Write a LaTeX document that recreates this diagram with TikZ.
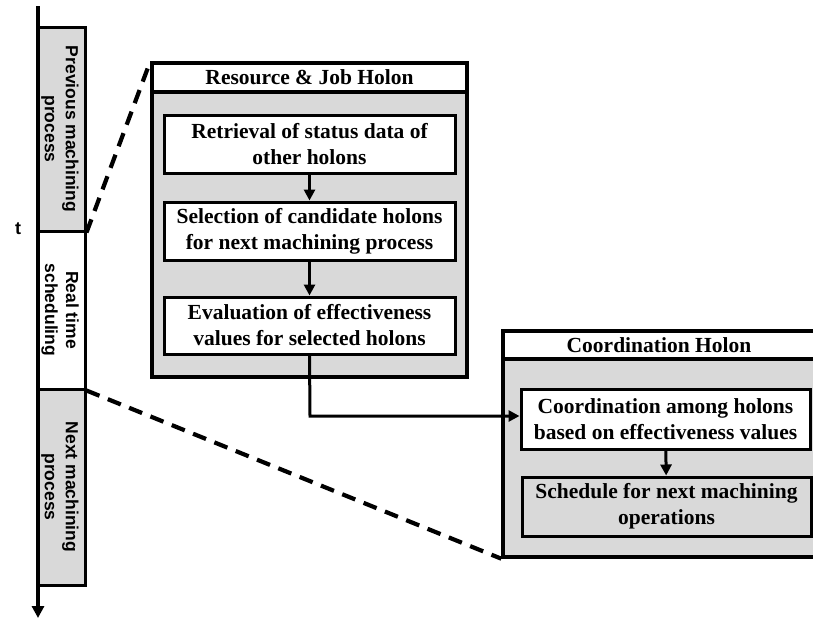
\documentclass[tikz,border=0pt]{standalone}
\usepackage{fontspec}
\setmainfont{Liberation Serif}
\setsansfont{Liberation Sans}
\usetikzlibrary{arrows.meta}
\definecolor{stip}{gray}{0.85}
\tikzset{
  outerbox/.style={draw=black, line width=3.4pt, fill=stip, inner sep=0pt},
  headbox/.style={draw=black, line width=3.2pt, fill=white, inner sep=0pt,
    font=\fontsize{21.5}{25}\selectfont\bfseries},
  stepbox/.style={draw=black, line width=3pt, fill=white, inner sep=0pt, align=center,
    font=\fontsize{21.5}{26}\selectfont\bfseries},
  barbox/.style={draw=black, line width=3pt, inner sep=0pt},
  bartext/.style={rotate=-90, align=center, inner sep=0pt,
    font=\fontsize{17.5}{21}\selectfont\sffamily\bfseries},
  flow/.style={line width=3pt, -{Triangle[length=11pt,width=11pt]}},
  zoomline/.style={line width=4.2pt, dash pattern=on 14pt off 9pt},
}
\begin{document}
\begin{tikzpicture}[x=1pt,y=-1pt]
\useasboundingbox (0,0) rectangle (813,619);
% timeline bars
\node[barbox, fill=stip, minimum width=47pt, minimum height=204pt] (prev) at (61.5,129) {};
\node[bartext] (prevt) at (60,129) {Previous machining\\process};
\node[barbox, fill=white, minimum width=47pt, minimum height=158pt] (real) at (61.5,310) {};
\node[bartext] (realt) at (60,310) {Real time\\scheduling};
\node[barbox, fill=stip, minimum width=47pt, minimum height=196pt] (next) at (61.5,487) {};
\node[bartext] (nextt) at (60,487) {Next machining\\process};
\coordinate (axtop) at (38,6);
\coordinate (axbot) at (38,618);
\draw[line width=3.2pt, -{Triangle[length=12pt,width=12pt]}] (axtop) -- (axbot);
\node[font=\fontsize{18}{20}\selectfont\sffamily\bfseries] (tlab) at (18,229) {t};
% Resource & Job Holon
\node[outerbox, minimum width=315pt, minimum height=314pt] (res) at (309.5,220) {};
\node[headbox, minimum width=315pt, minimum height=29pt] (reshead) at (309.5,77.5) {Resource \& Job Holon};
\node[stepbox, minimum width=291pt, minimum height=58pt] (r1) at (309.5,144) {Retrieval of status data of\\other holons};
\node[stepbox, minimum width=291pt, minimum height=58pt] (r2) at (309.5,231) {Selection of candidate holons\\for next machining process};
\node[stepbox, minimum width=291pt, minimum height=57pt] (r3) at (309.5,325.5) {Evaluation of effectiveness\\values for selected holons};
\draw[flow] (r1) -- (r2);
\draw[flow] (r2) -- (r3);
% Coordination Holon
\node[outerbox, minimum width=312pt, minimum height=226pt] (co) at (659,444) {};
\node[headbox, minimum width=312pt, minimum height=28pt] (cohead) at (659,345) {Coordination Holon};
\node[stepbox, minimum width=289pt, minimum height=60pt] (c1) at (665.5,419) {Coordination among holons\\based on effectiveness values};
\node[stepbox, fill=stip, minimum width=289pt, minimum height=59pt] (c2) at (666.5,506.5) {Schedule for next machining\\operations};
\draw[flow] (c1) -- (c2);
% link between holons
\coordinate (bend) at (310,416);
\draw[flow] (r3.south) -- (bend) -- (bend -| c1.west);
% zoom lines
\draw[zoomline] (prev.south east) -- (res.north west);
\draw[zoomline] (real.south east) -- (co.south west);
\end{tikzpicture}
\end{document}
